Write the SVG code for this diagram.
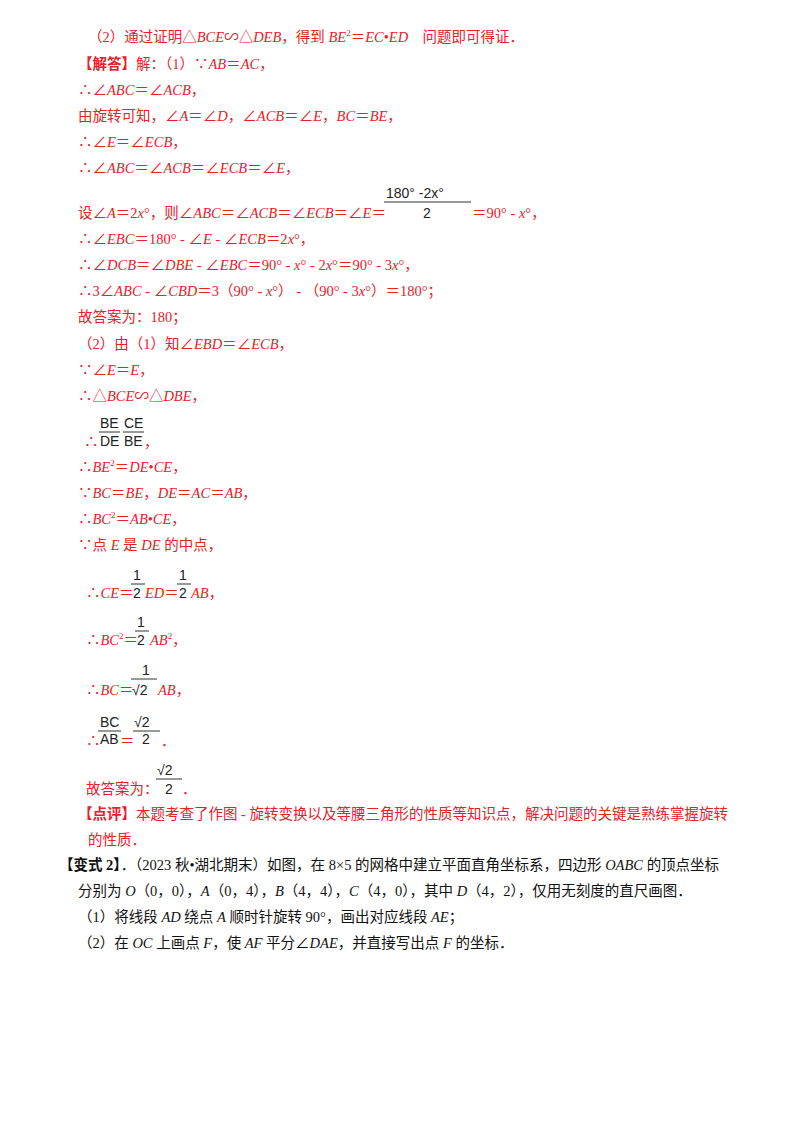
<svg xmlns="http://www.w3.org/2000/svg" width="800" height="1132" viewBox="0 0 800 1132">
<style>
text{font-family:"Liberation Serif","Noto Sans CJK SC",serif;font-size:14.5px}
.r{fill:#e8202a}
.k{fill:#111}
.i{font-style:italic}
.f{font-family:"Liberation Sans",sans-serif;font-size:14px;fill:#222}
.s{font-size:9px}
line{stroke:#333;stroke-width:1}
</style>
<rect width="800" height="1132" fill="#fff"/>
<g id="text">
<text class="r" x="88" y="42">（2）通过证明△<tspan class="i">BCE</tspan>∽△<tspan class="i">DEB</tspan>，得到 <tspan class="i">BE</tspan><tspan class="s" dy="-6">2</tspan><tspan dy="6">＝</tspan><tspan class="i">EC</tspan>•<tspan class="i">ED</tspan>　问题即可得证．</text>
<text class="r" x="78" y="69"><tspan font-weight="bold">【解答】</tspan>解：（1）∵<tspan class="i">AB</tspan>＝<tspan class="i">AC</tspan>，</text>
<text class="r" x="78" y="95">∴∠<tspan class="i">ABC</tspan>＝∠<tspan class="i">ACB</tspan>，</text>
<text class="r" x="78" y="121">由旋转可知，∠<tspan class="i">A</tspan>＝∠<tspan class="i">D</tspan>，∠<tspan class="i">ACB</tspan>＝∠<tspan class="i">E</tspan>，<tspan class="i">BC</tspan>＝<tspan class="i">BE</tspan>，</text>
<text class="r" x="78" y="147">∴∠<tspan class="i">E</tspan>＝∠<tspan class="i">ECB</tspan>，</text>
<text class="r" x="78" y="173">∴∠<tspan class="i">ABC</tspan>＝∠<tspan class="i">ACB</tspan>＝∠<tspan class="i">ECB</tspan>＝∠<tspan class="i">E</tspan>，</text>
<text class="f" x="386" y="198">180°  -2x°</text>
<line x1="384" y1="202" x2="471" y2="202"/>
<text class="f" x="423" y="218">2</text>
<text class="r" x="78" y="218">设∠<tspan class="i">A</tspan>＝2<tspan class="i">x</tspan>°，则∠<tspan class="i">ABC</tspan>＝∠<tspan class="i">ACB</tspan>＝∠<tspan class="i">ECB</tspan>＝∠<tspan class="i">E</tspan>＝</text>
<text class="r" x="472" y="218">＝90° - <tspan class="i">x</tspan>°，</text>
<text class="r" x="78" y="244">∴∠<tspan class="i">EBC</tspan>＝180° - ∠<tspan class="i">E</tspan> - ∠<tspan class="i">ECB</tspan>＝2<tspan class="i">x</tspan>°，</text>
<text class="r" x="78" y="270">∴∠<tspan class="i">DCB</tspan>＝∠<tspan class="i">DBE</tspan> - ∠<tspan class="i">EBC</tspan>＝90° - <tspan class="i">x</tspan>° - 2<tspan class="i">x</tspan>°＝90° - 3<tspan class="i">x</tspan>°，</text>
<text class="r" x="78" y="296">∴3∠<tspan class="i">ABC</tspan> - ∠<tspan class="i">CBD</tspan>＝3（90° - <tspan class="i">x</tspan>°） - （90° - 3<tspan class="i">x</tspan>°）＝180°；</text>
<text class="r" x="78" y="322">故答案为：180；</text>
<text class="r" x="78" y="349">（2）由（1）知∠<tspan class="i">EBD</tspan>＝∠<tspan class="i">ECB</tspan>，</text>
<text class="r" x="78" y="375">∵∠<tspan class="i">E</tspan>＝<tspan class="i">E</tspan>，</text>
<text class="r" x="78" y="401">∴△<tspan class="i">BCE</tspan>∽△<tspan class="i">DBE</tspan>，</text>
<text class="f" x="100" y="428" font-size="13">BE</text>
<line x1="99" y1="432" x2="120" y2="432"/>
<text class="f" x="100" y="446" font-size="13">DE</text>
<text class="f" x="124" y="428" font-size="13">CE</text>
<line x1="123" y1="432" x2="144" y2="432"/>
<text class="f" x="124" y="446" font-size="13">BE</text>
<text class="r" x="84" y="447">∴</text>
<text class="r" x="144" y="447">，</text>
<text class="r" x="78" y="472">∴<tspan class="i">BE</tspan><tspan class="s" dy="-6">2</tspan><tspan dy="6">＝</tspan><tspan class="i">DE</tspan>•<tspan class="i">CE</tspan>，</text>
<text class="r" x="78" y="498">∵<tspan class="i">BC</tspan>＝<tspan class="i">BE</tspan>，<tspan class="i">DE</tspan>＝<tspan class="i">AC</tspan>＝<tspan class="i">AB</tspan>，</text>
<text class="r" x="78" y="524">∴<tspan class="i">BC</tspan><tspan class="s" dy="-6">2</tspan><tspan dy="6">＝</tspan><tspan class="i">AB</tspan>•<tspan class="i">CE</tspan>，</text>
<text class="r" x="78" y="550">∵点 <tspan class="i">E</tspan> 是 <tspan class="i">DE</tspan> 的中点，</text>
<text class="f" x="133" y="580">1</text><line x1="131" y1="584" x2="145" y2="584"/><text class="f" x="133" y="598">2</text>
<text class="f" x="179" y="580">1</text><line x1="177" y1="584" x2="191" y2="584"/><text class="f" x="179" y="598">2</text>
<text class="r" x="86" y="598">∴<tspan class="i">CE</tspan>＝</text>
<text class="r" x="145" y="598"><tspan class="i">ED</tspan>＝</text>
<text class="r" x="191" y="598"><tspan class="i">AB</tspan>，</text>
<text class="f" x="137" y="627">1</text><line x1="135" y1="631" x2="149" y2="631"/><text class="f" x="137" y="645">2</text>
<text class="r" x="86" y="645">∴<tspan class="i">BC</tspan><tspan class="s" dy="-6">2</tspan><tspan dy="6">＝</tspan></text>
<text class="r" x="150" y="645"><tspan class="i">AB</tspan><tspan class="s" dy="-6">2</tspan><tspan dy="6">，</tspan></text>
<text class="f" x="142" y="675">1</text><line x1="131" y1="679" x2="157" y2="679"/>
<text class="f" x="132" y="695">√2</text>
<text class="r" x="86" y="695">∴<tspan class="i">BC</tspan>＝</text>
<text class="r" x="158" y="695"><tspan class="i">AB</tspan>，</text>
<text class="f" x="100" y="727" font-size="13">BC</text><line x1="98" y1="731" x2="121" y2="731"/><text class="f" x="100" y="744" font-size="13">AB</text>
<text class="f" x="134" y="727">√2</text><line x1="133" y1="731" x2="160" y2="731"/><text class="f" x="142" y="744">2</text>
<text class="r" x="86" y="746">∴</text>
<text class="r" x="120" y="746">＝</text>
<text class="r" x="161" y="746">．</text>
<text class="f" x="157" y="775">√2</text><line x1="156" y1="779" x2="182" y2="779"/><text class="f" x="165" y="794">2</text>
<text class="r" x="86" y="794">故答案为：</text>
<text class="r" x="182" y="794">．</text>
<text class="r" x="78" y="819"><tspan font-weight="bold">【点评】</tspan>本题考查了作图 - 旋转变换以及等腰三角形的性质等知识点，解决问题的关键是熟练掌握旋转</text>
<text class="r" x="88" y="845">的性质．</text>
<text class="k" x="59" y="870"><tspan font-weight="bold">【变式 2】</tspan>．（2023 秋•湖北期末）如图，在 8×5 的网格中建立平面直角坐标系，四边形 <tspan class="i">OABC</tspan> 的顶点坐标</text>
<text class="k" x="78" y="896">分别为 <tspan class="i">O</tspan>（0，0），<tspan class="i">A</tspan>（0，4），<tspan class="i">B</tspan>（4，4），<tspan class="i">C</tspan>（4，0），其中 <tspan class="i">D</tspan>（4，2），仅用无刻度的直尺画图．</text>
<text class="k" x="78" y="922">（1）将线段 <tspan class="i">AD</tspan> 绕点 <tspan class="i">A</tspan> 顺时针旋转 90°，画出对应线段 <tspan class="i">AE</tspan>；</text>
<text class="k" x="78" y="948">（2）在 <tspan class="i">OC</tspan> 上画点 <tspan class="i">F</tspan>，使 <tspan class="i">AF</tspan> 平分∠<tspan class="i">DAE</tspan>，并直接写出点 <tspan class="i">F</tspan> 的坐标．</text>
</g>
</svg>
